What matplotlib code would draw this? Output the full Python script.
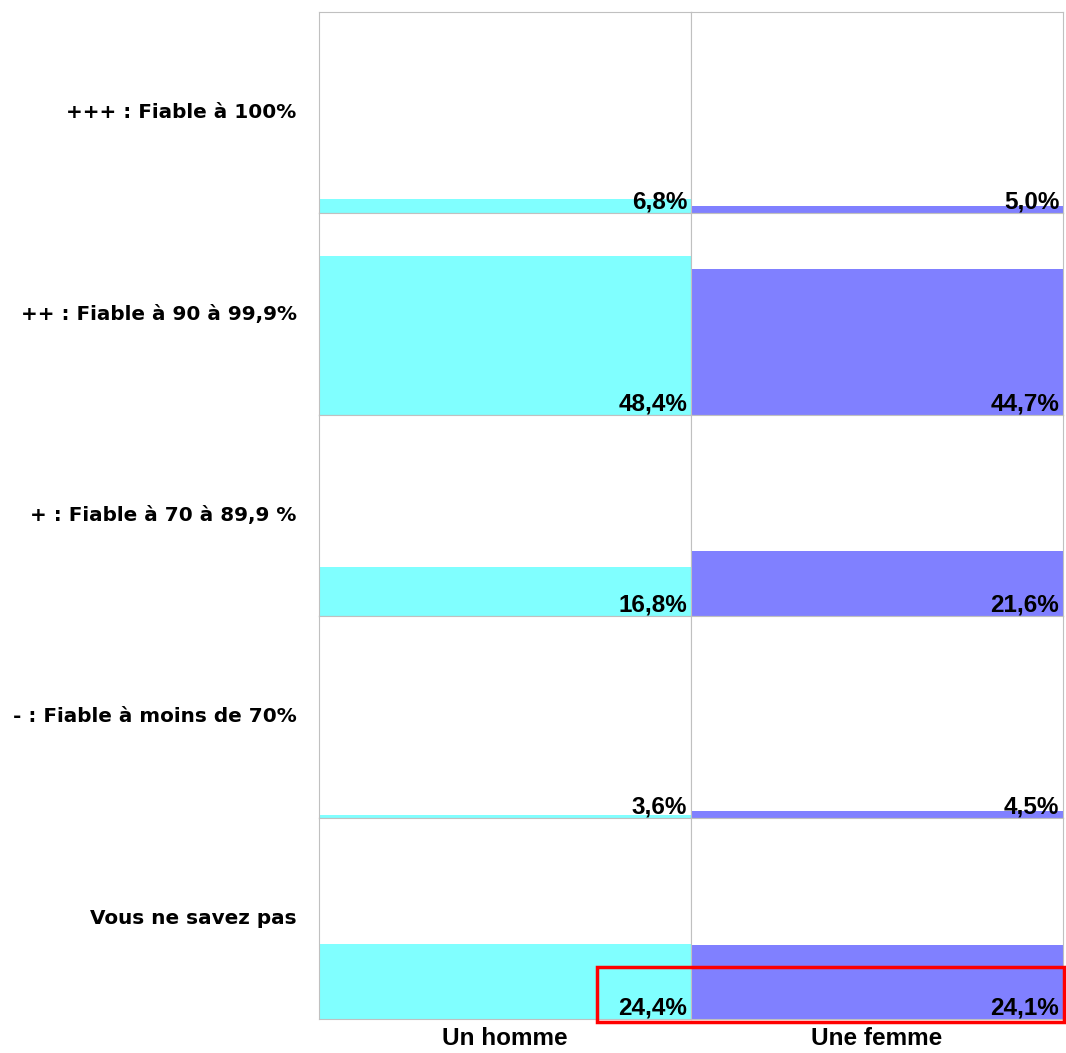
import matplotlib.pyplot as plt
from matplotlib.patches import Rectangle

# Données
reponses = ['+++ : Fiable à 100%', '++ : Fiable à 90 à 99,9%', '+ : Fiable à 70 à 89,9 %',
            '- : Fiable à moins de 70%', 'Vous ne savez pas']
groupes = ['Un homme', 'Une femme']
homme = [6.8, 48.4, 16.8, 3.6, 24.4]
femme = [5.0, 44.7, 21.6, 4.5, 24.1]
couleurs = ['#80FFFF', '#8080FF']

W, H = 1066, 1053
fig = plt.figure(figsize=(W / 100, H / 100), dpi=100)
gs = fig.add_gridspec(5, 2, left=319 / W, right=1063 / W, top=1 - 12 / H, bottom=1 - 1019 / H,
                      hspace=0, wspace=0)

valeurs = [homme, femme]
for i, rep in enumerate(reponses):
    for j in range(2):
        ax = fig.add_subplot(gs[i, j])
        v = valeurs[j][i]
        ax.bar([0], [v], width=1, color=couleurs[j], zorder=1)
        ax.set_xlim(-0.5, 0.5)
        ax.set_ylim(2.74, 60.6)
        ax.set_xticks([])
        ax.set_yticks([])
        for s in ax.spines.values():
            s.set_color('#c0c0c0')
            s.set_linewidth(0.8)
            s.set_zorder(3)
        ax.text(0.99, -0.002, f'{v:.1f}%'.replace('.', ','), transform=ax.transAxes,
                ha='right', va='bottom', fontsize=17.5, fontweight='bold',
                family='Liberation Sans', zorder=4)
        if j == 0:
            ax.text(-0.06, 0.5, rep, transform=ax.transAxes, ha='right', va='center',
                    fontsize=14.4, fontweight='bold', family='DejaVu Sans')
        if i == 4:
            ax.text(0.5, -0.095, groupes[j], transform=ax.transAxes, ha='center', va='center',
                    fontsize=17.5, fontweight='bold', family='Liberation Sans')

# Cadre rouge autour de la dernière ligne
fig.patches.append(Rectangle((597 / W, 1 - 1022 / H), (1064 - 597) / W, (1022 - 967) / H,
                             transform=fig.transFigure, fill=False, edgecolor='#ff0000',
                             linewidth=2.5, zorder=10))

fig.savefig('out.png', dpi=100)
